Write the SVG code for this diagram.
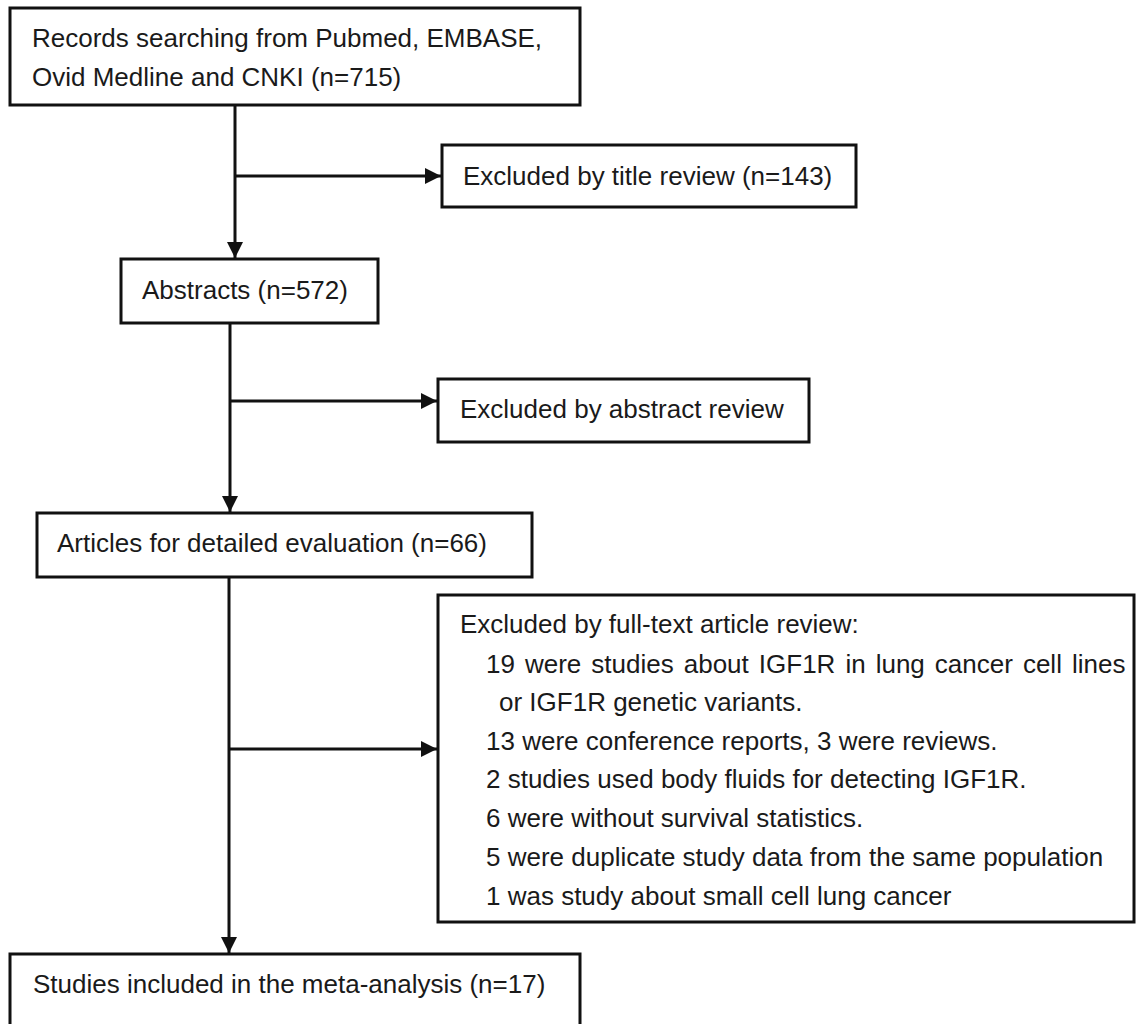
<svg xmlns="http://www.w3.org/2000/svg" width="1136" height="1024" viewBox="0 0 1136 1024">
<style>
.box{fill:#fff;stroke:#111;stroke-width:3}
.t{font-family:"Liberation Sans",Arial,sans-serif;font-size:26px;fill:#1a1a1a}
.c{stroke:#111;stroke-width:3;fill:none}
</style>
<defs>
<marker id="ah" markerUnits="userSpaceOnUse" markerWidth="16" markerHeight="16" viewBox="0 0 14 14" refX="14" refY="7" orient="auto">
<path d="M0,0 L14,7 L0,14 Z" fill="#111"/>
</marker>
</defs>
<rect width="1136" height="1024" fill="#fff"/>
<g id="connectors">
<line class="c" x1="235" y1="105" x2="235" y2="258" marker-end="url(#ah)"/>
<line class="c" x1="235" y1="176" x2="441" y2="176" marker-end="url(#ah)"/>
<line class="c" x1="230" y1="323" x2="230" y2="512" marker-end="url(#ah)"/>
<line class="c" x1="230" y1="401" x2="437" y2="401" marker-end="url(#ah)"/>
<line class="c" x1="229" y1="577" x2="229" y2="953" marker-end="url(#ah)"/>
<line class="c" x1="229" y1="749" x2="437" y2="749" marker-end="url(#ah)"/>
</g>
<g id="records">
<rect class="box" x="10" y="8" width="570" height="97"/>
<text class="t" x="32" y="47">Records searching from Pubmed, EMBASE,</text>
<text class="t" x="32" y="86">Ovid Medline and CNKI (n=715)</text>
</g>
<g id="excluded-title">
<rect class="box" x="442" y="145" width="414" height="62"/>
<text class="t" x="463" y="185">Excluded by title review (n=143)</text>
</g>
<g id="abstracts">
<rect class="box" x="121" y="259" width="257" height="64"/>
<text class="t" x="142" y="299">Abstracts (n=572)</text>
</g>
<g id="excluded-abstract">
<rect class="box" x="438" y="379" width="371" height="63"/>
<text class="t" x="460" y="418">Excluded by abstract review</text>
</g>
<g id="articles">
<rect class="box" x="37" y="513" width="495" height="64"/>
<text class="t" x="57" y="552">Articles for detailed evaluation (n=66)</text>
</g>
<g id="excluded-fulltext">
<rect class="box" x="438" y="595" width="696" height="327"/>
<text class="t" x="460" y="633">Excluded by full-text article review:</text>
<text class="t" x="486" y="673" word-spacing="2.8">19 were studies about IGF1R in lung cancer cell lines</text>
<text class="t" x="499" y="711">or IGF1R genetic variants.</text>
<text class="t" x="486" y="750">13 were conference reports, 3 were reviews.</text>
<text class="t" x="486" y="788">2 studies used body fluids for detecting IGF1R.</text>
<text class="t" x="486" y="827">6 were without survival statistics.</text>
<text class="t" x="486" y="866">5 were duplicate study data from the same population</text>
<text class="t" x="486" y="905">1 was study about small cell lung cancer</text>
</g>
<g id="included">
<rect class="box" x="10" y="954" width="570" height="90"/>
<text class="t" x="33" y="993">Studies included in the meta-analysis (n=17)</text>
</g>
</svg>
